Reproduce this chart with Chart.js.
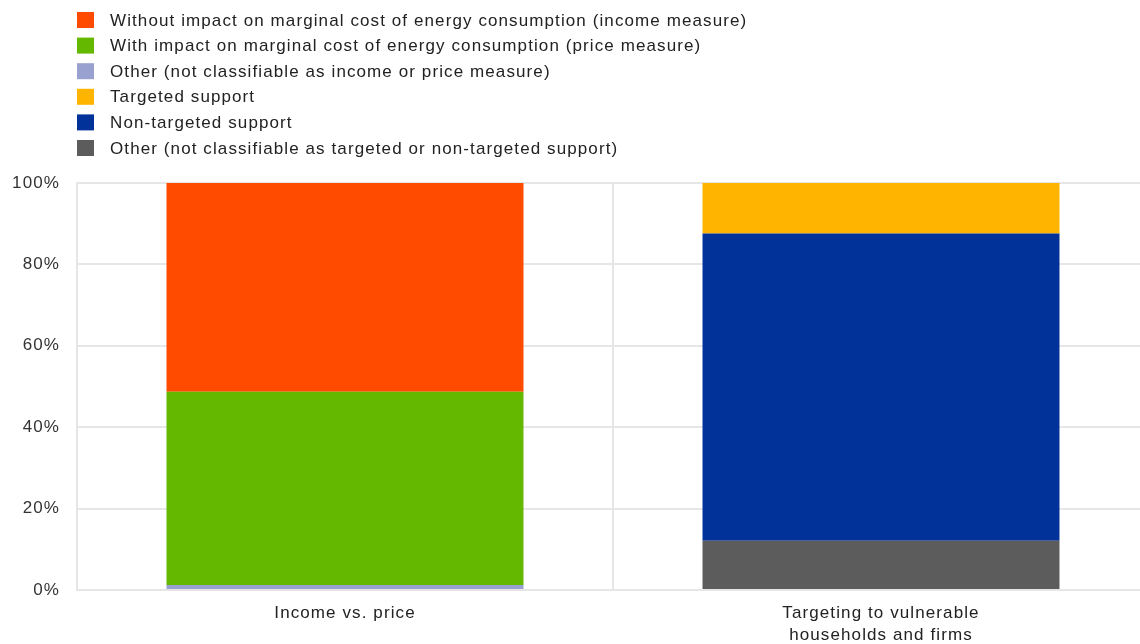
<!DOCTYPE html>
<html>
<head>
<meta charset="utf-8">
<script src="https://cdn.jsdelivr.net/npm/chart.js@4.4.1/dist/chart.umd.min.js"></script>
<style>
html,body{margin:0;padding:0;background:#fff;overflow:hidden;width:1140px;height:644px;}
canvas{display:block;}
</style>
</head>
<body>
<canvas id="c" width="1149" height="644"></canvas>
<script>
const categories = ["Income vs. price", ["Targeting to vulnerable", "households and firms"]];
const yTicks = [0, 20, 40, 60, 80, 100];

// series values (percent shares)
const incomeMeasure = [51.3, 0];      // Without impact on marginal cost (income measure)
const priceMeasure = [47.5, 0];       // With impact on marginal cost (price measure)
const otherIncomePrice = [1.2, 0];    // Other (not classifiable as income or price measure)
const targetedSupport = [0, 12.4];
const nonTargetedSupport = [0, 75.5];
const otherTargeting = [0, 12.1];

const legendOrder = [
  {label: "Without impact on marginal cost of energy consumption (income measure)", color: "#FF4B00"},
  {label: "With impact on marginal cost of energy consumption (price measure)", color: "#65B800"},
  {label: "Other (not classifiable as income or price measure)", color: "#98A1D0"},
  {label: "Targeted support", color: "#FFB400"},
  {label: "Non-targeted support", color: "#003299"},
  {label: "Other (not classifiable as targeted or non-targeted support)", color: "#5C5C5C"}
];

const FONT = "'Liberation Sans', Arial, sans-serif";
const SPACING = '1.1px';

const spacingPlugin = {
  id: 'spacing',
  beforeDraw(chart){ chart.ctx.letterSpacing = SPACING; },
  beforeLayout(chart){ chart.ctx.letterSpacing = SPACING; }
};

const legendPlugin = {
  id: 'customLegend',
  afterDraw(chart){
    const ctx = chart.ctx;
    ctx.save();
    ctx.letterSpacing = SPACING;
    ctx.font = "17px " + FONT;
    ctx.textBaseline = 'middle';
    legendOrder.forEach((it, i) => {
      const cy = 20 + i * 25.6;
      ctx.fillStyle = it.color;
      ctx.fillRect(77, cy - 8, 17, 16);
      ctx.fillStyle = '#222';
      ctx.fillText(it.label, 110, cy + 1);
    });
    ctx.restore();
  }
};

new Chart(document.getElementById('c'), {
  type: 'bar',
  data: {
    labels: categories,
    datasets: [
      {label: legendOrder[2].label, data: otherIncomePrice, backgroundColor: legendOrder[2].color},
      {label: legendOrder[1].label, data: priceMeasure, backgroundColor: legendOrder[1].color},
      {label: legendOrder[0].label, data: incomeMeasure, backgroundColor: legendOrder[0].color},
      {label: legendOrder[5].label, data: otherTargeting, backgroundColor: legendOrder[5].color},
      {label: legendOrder[4].label, data: nonTargetedSupport, backgroundColor: legendOrder[4].color},
      {label: legendOrder[3].label, data: targetedSupport, backgroundColor: legendOrder[3].color}
    ]
  },
  options: {
    responsive: false,
    animation: false,
    layout: {padding: {top: 183, left: 0, right: 0, bottom: 0}},
    datasets: {bar: {categoryPercentage: 1, barPercentage: 0.666, borderWidth: 0}},
    plugins: {legend: {display: false}, tooltip: {enabled: false}},
    scales: {
      x: {
        stacked: true,
        grid: {color: '#e6e6e6', lineWidth: 2, drawTicks: false, offset: true},
        border: {color: '#e6e6e6', width: 2},
        ticks: {color: '#222', font: {family: FONT, size: 17, lineHeight: 1.3}, padding: 12, maxRotation: 0, autoSkip: false},
        afterFit(s){ s.height = 54; }
      },
      y: {
        stacked: true,
        min: 0, max: 100,
        afterBuildTicks(s){ s.ticks = yTicks.map(v => ({value: v})); },
        grid: {color: '#e6e6e6', lineWidth: 2, drawTicks: false},
        border: {color: '#e6e6e6', width: 2},
        ticks: {color: '#333', font: {family: FONT, size: 17}, padding: 17, callback: v => v + '%'},
        afterFit(s){ s.width = 77; }
      }
    }
  },
  plugins: [spacingPlugin, legendPlugin]
});
</script>
</body>
</html>
